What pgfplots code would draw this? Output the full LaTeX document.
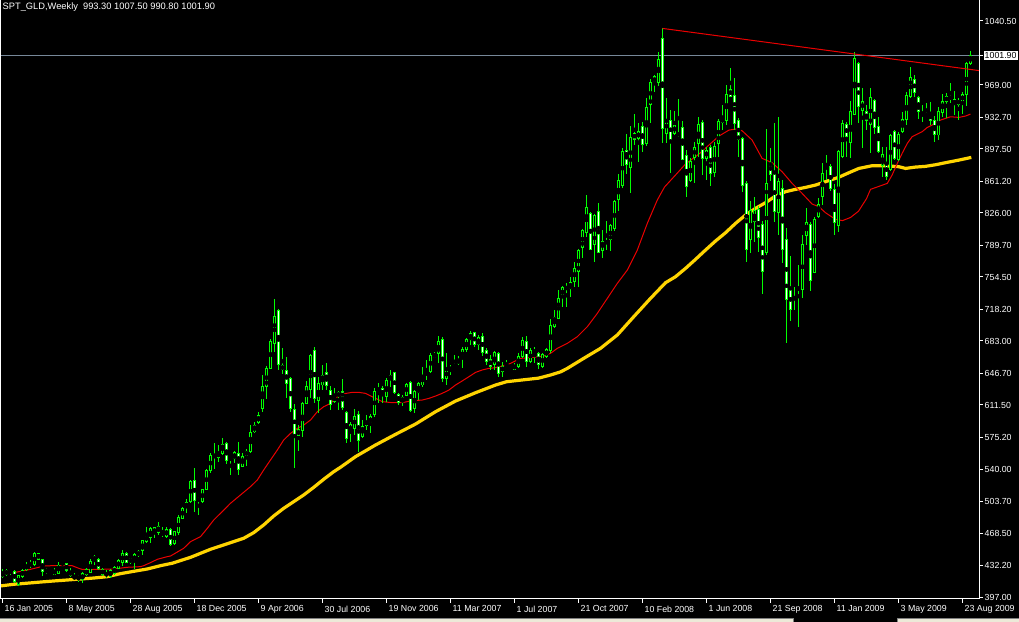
\documentclass[border=0pt]{standalone}
\usepackage{pgfplots}
\usepackage{pgfplotstable}
\usepackage{fontspec}
\setmainfont{Liberation Sans}
\pgfplotsset{compat=1.18}

\definecolor{mtgreen}{RGB}{0,255,0}
\definecolor{mtred}{RGB}{235,0,0}
\definecolor{mtgold}{RGB}{255,212,0}
\definecolor{mtslate}{RGB}{119,136,153}
\definecolor{tabbar}{RGB}{236,233,216}

% weekly candles, bar index 0 = week of 16 Jan 2005
\pgfplotstableread{
i o h l c
0 419.7 428.3 418.6 424.6
1 421.6 428.3 420.5 427.2
2 425.3 428.3 421.6 426.0
3 426.0 427.2 413.0 414.1
4 410.4 421.6 409.7 420.8
5 419.7 428.3 418.6 427.2
6 427.9 436.5 426.4 432.8
7 432.8 438.3 429.0 434.6
8 432.8 447.3 432.0 445.8
9 445.8 446.5 438.3 439.1
10 439.1 439.5 420.8 425.3
11 424.2 429.0 422.7 428.3
12 426.8 428.3 423.4 427.5
13 427.2 429.0 421.6 422.0
14 423.4 436.5 422.7 432.8
15 433.0 437.6 431.7 436.1
16 434.6 435.4 425.3 426.4
17 426.0 429.0 419.7 420.8
18 417.1 423.4 416.0 420.8
19 416.7 421.6 414.1 420.5
20 416.0 425.3 413.0 423.4
21 421.6 429.0 420.8 427.9
22 424.6 439.5 423.4 436.5
23 437.6 443.9 432.8 442.8
24 439.1 440.2 427.2 428.3
25 428.3 429.0 420.8 421.6
26 424.2 427.2 417.9 420.5
27 419.7 427.9 417.9 427.2
28 423.4 431.7 421.6 429.8
29 429.0 439.1 427.9 438.3
30 435.7 449.5 432.0 445.8
31 445.8 446.9 434.6 435.7
32 435.7 441.0 434.0 440.2
33 436.5 446.5 428.3 445.0
34 443.2 449.5 442.0 447.7
35 448.8 460.7 443.9 459.9
36 458.8 475.6 457.7 466.3
37 463.7 475.6 457.0 473.7
38 467.4 475.6 462.5 474.8
39 475.6 480.4 466.3 468.9
40 469.0 474.8 464.4 467.0
41 464.4 475.6 462.5 472.6
42 472.6 473.7 454.0 455.1
43 456.2 471.1 455.1 470.0
44 468.9 488.3 466.3 486.0
45 484.9 497.2 483.8 496.1
46 496.8 506.1 490.5 502.8
47 503.5 527.7 502.4 526.6
48 527.7 540.7 492.3 504.6
49 505.0 509.1 488.6 506.8
50 503.5 518.0 502.5 517.3
51 517.3 540.0 516.5 538.9
52 538.1 557.5 535.2 555.6
53 552.9 568.7 539.6 556.7
54 552.7 566.8 548.2 558.6
55 557.5 574.2 555.6 567.9
56 568.7 569.8 545.2 550.0
57 551.3 553.8 533.3 551.9
58 551.2 560.1 547.1 558.6
59 557.5 570.5 533.3 539.6
60 542.6 557.5 541.9 553.8
61 554.9 562.0 543.7 560.1
62 559.4 589.1 558.2 580.9
63 581.3 592.9 579.8 589.1
64 591.7 603.3 590.2 600.3
65 607.8 645.0 604.0 632.7
66 631.9 655.0 617.8 652.4
67 652.4 684.8 651.7 682.9
68 680.3 729.9 671.0 710.9
69 717.6 718.3 650.6 656.9
70 655.4 674.8 646.1 651.3
71 650.6 665.5 618.9 635.7
72 641.3 643.1 604.0 607.8
73 606.6 612.2 541.5 578.7
74 577.2 589.1 560.1 584.3
75 583.5 615.2 576.1 613.3
76 613.3 638.3 613.0 631.9
77 629.0 668.5 618.9 667.3
78 672.9 676.6 613.3 618.9
79 616.3 643.1 602.2 635.7
80 633.8 656.2 628.2 645.0
81 647.6 658.0 628.2 632.7
82 628.2 632.7 605.9 612.2
83 615.2 630.1 614.0 621.5
84 621.5 627.5 605.9 625.0
85 627.1 640.1 605.9 608.9
86 603.3 604.5 569.4 574.2
87 580.6 592.9 570.5 590.2
88 585.4 606.6 578.0 599.2
89 601.0 605.1 558.6 571.6
90 576.1 594.7 574.2 588.0
91 589.1 600.3 583.5 593.6
92 590.2 601.0 579.8 599.2
93 600.3 630.1 598.4 627.1
94 629.3 636.4 613.3 628.2
95 630.1 632.7 614.1 621.5
96 621.5 641.3 615.2 638.6
97 639.4 650.6 631.9 645.0
98 647.6 648.7 623.7 625.2
99 623.7 625.2 611.5 614.1
100 615.2 622.6 610.4 620.0
101 622.6 636.4 621.5 634.9
102 636.8 638.3 604.0 605.1
103 607.8 628.2 602.9 626.3
104 625.2 637.5 617.0 635.7
105 633.8 654.3 631.9 645.0
106 645.7 661.7 639.4 647.9
107 648.7 669.2 646.9 667.3
108 664.7 671.0 663.6 668.4
109 669.2 688.5 658.0 682.9
110 684.8 687.8 637.5 641.3
111 641.3 669.2 633.8 650.6
112 650.6 656.2 645.0 653.2
113 653.2 667.3 652.4 656.2
114 657.3 666.2 656.2 662.5
115 663.6 676.6 652.4 673.6
116 673.6 685.9 671.0 685.2
117 684.8 694.1 678.5 691.5
118 692.3 693.4 676.6 678.5
119 678.5 689.7 672.9 687.0
120 688.5 691.5 666.2 670.3
121 672.9 674.8 656.2 659.9
122 662.5 667.3 650.6 654.3
123 656.2 671.8 650.6 670.3
124 669.2 671.0 642.4 646.1
125 648.7 659.9 643.1 655.0
126 653.6 661.8 652.4 655.6
127 651.5 655.0 650.0 653.0
128 651.3 658.0 650.6 656.2
129 654.3 670.0 652.4 665.5
130 665.5 687.0 663.6 683.3
131 682.2 688.5 654.3 659.9
132 659.9 674.8 658.0 672.9
133 670.3 676.6 658.0 672.2
134 669.2 671.0 651.3 656.9
135 654.3 669.9 652.4 668.4
136 665.5 674.8 663.6 673.7
137 671.8 707.2 669.2 700.9
138 699.0 717.6 697.1 709.0
139 708.3 739.9 707.5 730.6
140 732.5 744.4 721.3 742.9
141 743.7 747.4 720.6 740.7
142 741.8 754.1 732.5 748.5
143 749.2 771.6 743.7 764.1
144 760.4 785.4 743.7 784.6
145 787.2 807.7 776.0 806.2
146 804.4 846.0 798.8 832.3
147 825.6 827.4 784.6 785.4
148 791.3 824.5 771.6 823.7
149 827.4 837.5 780.9 782.0
150 784.6 806.9 776.0 794.7
151 794.7 817.0 784.6 792.1
152 795.8 813.7 783.9 811.8
153 808.1 840.5 805.8 838.6
154 840.8 869.5 828.5 862.8
155 857.2 898.2 853.5 895.2
156 896.3 914.2 869.5 880.3
157 876.9 923.1 847.9 910.1
158 914.9 936.1 901.9 908.6
159 909.3 926.1 883.3 916.8
160 922.4 927.9 894.4 902.6
161 903.8 954.0 900.8 944.0
162 947.3 975.2 926.1 971.9
163 978.2 980.1 961.5 971.9
164 971.9 1006.1 968.2 997.6
165 1021.0 1032.2 903.8 919.8
166 914.9 954.0 903.8 930.9
167 929.8 941.0 871.0 908.2
168 914.9 939.9 913.0 924.2
169 916.0 953.3 910.5 912.0
170 921.6 928.7 885.1 885.9
171 890.0 896.3 844.2 855.4
172 862.0 887.0 861.0 884.0
173 888.1 905.6 859.1 899.3
174 903.8 933.5 888.8 925.3
175 927.2 929.8 868.4 887.0
176 887.0 900.0 862.8 896.3
177 899.3 901.9 856.1 870.2
178 871.0 905.6 865.8 900.8
179 903.8 930.6 888.8 928.7
180 927.2 946.6 918.6 931.7
181 929.8 968.9 924.2 958.9
182 964.4 987.5 955.1 956.6
183 957.7 976.3 918.6 926.1
184 929.1 931.7 888.8 908.2
185 909.3 911.2 849.8 856.5
186 859.1 862.0 771.6 785.4
187 796.5 839.7 781.6 828.5
188 816.3 844.2 793.9 829.3
189 830.4 834.1 782.8 798.8
190 813.7 817.4 735.5 760.4
191 781.6 919.8 779.0 859.1
192 882.5 898.9 862.0 869.1
193 870.2 926.1 816.3 827.4
194 826.3 933.5 801.4 861.7
195 853.5 862.8 770.5 785.4
196 796.5 808.8 680.4 729.5
197 740.7 777.9 705.7 718.3
198 729.5 743.6 717.6 732.5
199 741.5 767.9 698.2 741.8
200 740.7 801.4 730.6 791.3
201 800.6 831.2 790.2 815.4
202 813.3 816.3 739.2 750.4
203 759.3 821.1 758.5 818.9
204 821.9 842.3 820.0 836.0
205 844.9 882.1 834.9 870.2
206 879.7 890.7 862.8 879.5
207 878.0 880.7 851.0 853.5
208 852.0 858.0 801.0 815.0
209 812.0 896.3 805.0 894.4
210 888.9 929.8 887.0 926.1
211 925.0 927.9 888.9 911.2
212 904.5 951.0 887.0 939.9
213 936.5 1005.4 935.4 998.7
214 993.1 995.0 926.1 944.7
215 941.0 965.9 898.9 951.0
216 939.9 946.6 918.6 929.1
217 925.0 965.9 892.6 955.1
218 952.2 952.9 913.8 921.3
219 923.1 933.5 892.6 894.4
220 879.5 900.0 866.5 891.8
221 882.5 899.3 862.8 866.5
222 874.7 913.8 873.2 913.1
223 917.5 918.6 885.1 887.0
224 885.9 916.8 884.4 913.8
225 916.8 939.1 914.9 930.6
226 930.6 960.7 924.2 957.7
227 955.9 989.4 954.0 977.5
228 975.2 980.1 955.9 960.7
229 955.1 956.6 930.6 939.1
230 937.3 946.6 928.0 935.0
231 933.5 948.4 932.8 937.3
232 937.3 949.6 924.2 929.1
233 929.8 934.3 905.6 913.8
234 913.1 944.7 907.5 939.1
235 938.4 958.8 933.5 951.0
236 950.3 959.6 931.7 956.6
237 952.9 971.5 948.4 956.6
238 946.6 962.2 935.4 952.9
239 952.2 954.8 929.8 947.3
240 950.3 961.5 936.5 958.8
241 958.5 995.0 945.8 993.1
242 993.3 1007.5 990.8 1001.9
}\gld

\begin{document}
\begin{tikzpicture}
\fill[black] (0,0) rectangle (1019bp,622bp);
\path[use as bounding box] (0,0) rectangle (1019bp,622bp);
\begin{axis}[
    at={(0,622bp)}, anchor=north west,
    scale only axis, width=979bp, height=599bp,
    xmin=-0.625, xmax=244.125, ymin=394.77, ymax=1063.96,
    axis x line*=bottom, axis y line*=right,
    axis line style={white, line width=1bp, -},
    tick style={white, line width=1bp},
    tick align=outside, major tick length=4bp,
    tick label style={font=\fontsize{8.8bp}{10bp}\selectfont, text=white},
    xtick={0,16,...,240},
    xticklabels={16 Jan 2005, 8 May 2005, 28 Aug 2005, 18 Dec 2005, 9 Apr 2006,
        30 Jul 2006, 19 Nov 2006, 11 Mar 2007, 1 Jul 2007, 21 Oct 2007,
        10 Feb 2008, 1 Jun 2008, 21 Sep 2008, 11 Jan 2009, 3 May 2009, 23 Aug 2009},
    xticklabel style={anchor=north west, inner sep=0pt, xshift=2bp, yshift=-2.5bp},
    ytick={397,432.2,468.5,503.7,540,575.2,611.5,646.7,683,718.2,754.5,789.7,826,861.2,897.5,932.7,969,1040.5},
    yticklabels={397.00,432.20,468.50,503.70,540.00,575.20,611.50,646.70,683.00,718.20,754.50,789.70,826.00,861.20,897.50,932.70,969.00,1040.50},
    yticklabel style={anchor=west, inner sep=0pt, xshift=1.5bp},
    extra y ticks={1001.9}, extra y tick labels={1001.90},
    extra y tick style={yticklabel style={fill=white, text=black, inner sep=1bp, xshift=-1bp}},
    error bars/error mark=none,
]
% bid line
\addplot[mtslate, line width=1bp] coordinates {(-0.625,1001.9) (244.125,1001.9)};

% slow moving average
\addplot[mtgold, line width=3.2bp] coordinates {
(-0.6,409.3) (2.8,411.2) (6.6,412.6) (9.5,413.7) (12.8,414.9) (16.2,416.0) (19.5,417.1)
(22.8,418.2) (26.2,419.7) (29.5,423.1) (32.8,425.7) (36.2,428.3) (39.5,432.0) (42.5,434.8)
(47,441.3) (52,450.3) (57,457.7) (60.3,462.6) (62.8,468.9) (65.3,477.5) (67.8,487.5)
(70.3,496.1) (72.8,503.5) (75.3,511.0) (77.8,519.5) (80.3,528.5) (82.8,537.0) (84.5,541.9)
(88.25,553.8) (93.25,566.8) (98.25,578.7) (103.25,590.2) (108.25,604.0) (113.25,615.9)
(118.25,625.2) (123.25,633.8) (126,637.5) (130,639.5) (134,641.5) (137,645.0) (139.5,648.5)
(141.2,652.4) (145.3,663.6) (149.5,674.8) (153.7,689.7) (157.8,710.1) (162,730.6)
(165.75,748.1) (168.25,754.8) (170.75,764.1) (173.25,774.2) (175.75,784.6) (178.25,794.7)
(180.75,803.9) (183.25,814.4) (185.75,823.7) (188.25,831.2) (190.75,837.5) (193.25,844.9)
(195.75,849.8) (198.25,852.4) (200.75,854.6) (203.25,857.2) (205.75,861.0) (209,865.8)
(211.6,871.0) (214.1,875.8) (217.4,878.8) (220.75,878.8) (224.1,877.7) (225.75,875.8)
(228.25,877.3) (230.75,878.1) (233.25,879.9) (235.75,882.2) (239.1,885.1) (242.2,888.1)
};

% fast moving average
\addplot[mtred, line width=1bp] coordinates {
(0,423.5) (3.3,424.6) (6.2,427.1) (8,429.0) (10.3,431.6) (12.4,432.0) (17.4,432.0)
(19.1,429.0) (19.9,427.9) (24.5,427.9) (27.8,428.3) (31.2,430.2) (34.5,430.9) (35.3,432.0)
(37,435.4) (38.7,439.1) (41.2,442.1) (42,442.8) (45.3,451.4) (47,458.8) (49.5,464.4)
(51.2,473.7) (52.8,483.0) (54.5,490.5) (57,501.7) (59.5,511.0) (62,520.3) (63.7,527.7)
(65.3,538.9) (67,550.1) (68.7,561.2) (70.3,572.4) (72,579.8) (73.7,585.4) (75.3,589.1)
(77,594.7) (78.7,604.0) (80.3,609.6) (82,613.3) (83.5,620.0) (85,623.8) (87.4,625.6)
(89.1,625.6) (90.75,624.5) (92.4,620.8) (95,615.2) (97.4,614.1) (99.9,614.1) (102.4,616.3)
(104.9,617.0) (106.6,618.9) (108.25,621.5) (109.9,624.5) (111.6,628.2) (113.25,633.8)
(114.9,638.3) (116.6,643.1) (118.25,647.9) (119.9,650.6) (121.6,652.4) (123.25,653.2)
(125.75,656.2) (127,658.0) (129.5,663.6) (132.8,664.8) (135.3,666.2) (137,669.2)
(138.7,674.8) (141.2,680.4) (143.7,687.8) (146.2,699.0) (148.7,713.9) (151.2,730.6)
(153.7,747.4) (156.2,762.3) (158.7,784.6) (161.2,814.4) (163.7,840.5) (165.5,855.0)
(168.25,868.4) (170.75,880.7) (174.1,891.8) (176.6,901.9) (179.1,911.9) (181.6,918.6)
(183.25,919.8) (184.9,917.9) (187.4,907.5) (189.9,887.0) (192.4,882.2) (194.9,872.1)
(197.4,859.1) (199.9,847.9) (202.4,836.0) (204.1,833.0) (205.75,826.3) (208.25,818.9)
(210,817.5) (212,821.0) (214,828.0) (216,842.0) (217,852.4) (221.2,859.1) (222.4,868.4)
(223.7,881.4) (224.9,892.6) (226.2,903.8) (227.4,911.2) (228.7,914.2) (229.9,916.8)
(231.2,921.6) (232.4,924.2) (234.5,929.8) (237,933.5) (239.1,932.8) (240.75,934.3) (242,936.5)
};

% wicks
\addplot[only marks, mark=none, error bars/.cd, y dir=both, y explicit,
    error bar style={mtgreen, line width=1bp}]
    table[x=i, y expr={(\thisrow{h}+\thisrow{l})/2}, y error expr={(\thisrow{h}-\thisrow{l})/2}] {\gld};
% bodies, outline
\addplot[only marks, mark=none, error bars/.cd, y dir=both, y explicit,
    error bar style={mtgreen, line width=3.5bp}]
    table[x=i, y expr={(\thisrow{o}+\thisrow{c})/2}, y error expr={abs(\thisrow{o}-\thisrow{c})/2+0.5}] {\gld};
% bear bodies, white inside
\addplot[only marks, mark=none, y filter/.expression={\thisrow{c}<\thisrow{o} ? y : nan},
    error bars/.cd, y dir=both, y explicit, error bar style={white, line width=1bp}]
    table[x=i, y expr={(\thisrow{o}+\thisrow{c})/2}, y error expr={max(abs(\thisrow{o}-\thisrow{c})/2-0.6,0)}] {\gld};
% bull bodies, black inside
\addplot[only marks, mark=none, y filter/.expression={\thisrow{c}<\thisrow{o} ? nan : y},
    error bars/.cd, y dir=both, y explicit, error bar style={black, line width=1bp}]
    table[x=i, y expr={(\thisrow{o}+\thisrow{c})/2}, y error expr={max(abs(\thisrow{o}-\thisrow{c})/2-0.6,0)}] {\gld};

% trend line from the March 2008 high
\addplot[mtred, line width=1bp] coordinates {(165,1032.2) (244.125,985.1)};
\end{axis}

\node[anchor=west, inner sep=0pt, text=white, font=\fontsize{9.3bp}{11bp}\selectfont]
    at (2.5bp,615bp) {SPT\_GLD,Weekly\ \ 993.30 1007.50 990.80 1001.90};
\draw[white, line width=1bp] (0.5bp,23bp) -- (0.5bp,622bp);
\fill[tabbar] (0,0) rectangle (793bp,3.5bp);
\fill[tabbar] (897bp,0) rectangle (1019bp,3.5bp);
\draw[gray, line width=0.6bp] (0,3.8bp) -- (793bp,3.8bp) -- (793bp,0);
\draw[gray, line width=0.6bp] (897bp,0) -- (897bp,3.8bp) -- (1019bp,3.8bp);
\end{tikzpicture}
\end{document}
